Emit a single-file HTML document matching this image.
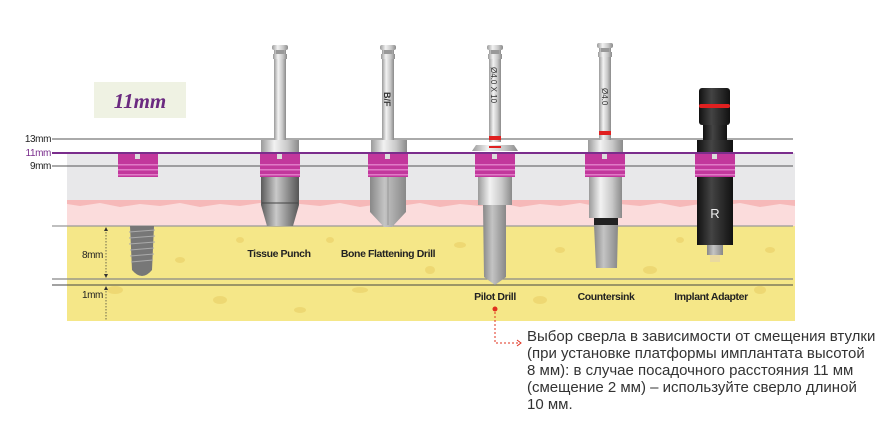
<!DOCTYPE html>
<html><head><meta charset="utf-8"><style>
html,body{margin:0;padding:0;background:#fff;width:890px;height:428px;overflow:hidden}
svg{display:block}
.t{font-family:"Liberation Sans",sans-serif}
.lbl{font-family:"Liberation Sans",sans-serif;font-size:10.5px;font-weight:bold;fill:#222;text-anchor:middle;letter-spacing:-0.4px}
.mm{font-family:"Liberation Sans",sans-serif;font-size:10px;fill:#222;text-anchor:end;letter-spacing:-0.4px}
</style></head><body>
<svg width="890" height="428" viewBox="0 0 890 428" xmlns="http://www.w3.org/2000/svg">
<defs>
<linearGradient id="met" x1="0" x2="1"><stop offset="0" stop-color="#9a9a9a"/><stop offset=".35" stop-color="#f2f2f2"/><stop offset=".7" stop-color="#c8c8c8"/><stop offset="1" stop-color="#8a8a8a"/></linearGradient>
<linearGradient id="dk" x1="0" x2="1"><stop offset="0" stop-color="#5a5a5a"/><stop offset=".4" stop-color="#c9c9c9"/><stop offset="1" stop-color="#555"/></linearGradient>
<linearGradient id="gr" x1="0" x2="1"><stop offset="0" stop-color="#888"/><stop offset=".4" stop-color="#c4c4c4"/><stop offset="1" stop-color="#888"/></linearGradient>
<linearGradient id="blk" x1="0" x2="1"><stop offset="0" stop-color="#111"/><stop offset=".4" stop-color="#444"/><stop offset="1" stop-color="#111"/></linearGradient>
<g id="sleeve"><rect x="-20" y="0" width="40" height="24" fill="#c2379c"/><rect x="-20" y="11" width="40" height="1.5" fill="#e07ac6"/><rect x="-20" y="16" width="40" height="1.5" fill="#e07ac6"/><rect x="-20" y="21" width="40" height="1.5" fill="#e07ac6"/><rect x="-3" y="1" width="5" height="5" fill="#ddd"/></g>
<g id="shaft"><rect x="-6" y="0" width="12" height="95" fill="url(#met)"/><rect x="-8" y="-2" width="16" height="5" rx="2" fill="url(#met)"/><rect x="-4" y="3" width="8" height="4" fill="#999"/><rect x="-7" y="7" width="14" height="5" fill="url(#met)"/></g>
</defs>
<rect x="94" y="82" width="92" height="36" fill="#eff2e3"/>
<text x="140" y="108" text-anchor="middle" font-family="Liberation Serif,serif" font-style="italic" font-weight="bold" font-size="21" fill="#6b2a80">11mm</text>
<rect x="67" y="153" width="728" height="47" fill="#e8e8ea"/>
<rect x="67" y="200" width="728" height="26" fill="#fbdcdc"/>
<path d="M67 200 L795 200 L795 206 L780 204 L760 207 L740 203 L720 206 L700 204 L680 207 L660 203 L640 206 L620 204 L600 207 L580 203 L560 206 L540 204 L520 207 L500 203 L480 206 L460 204 L440 207 L420 203 L400 206 L380 204 L360 207 L340 203 L320 206 L300 204 L280 207 L260 203 L240 206 L220 204 L200 207 L180 203 L160 206 L140 204 L120 207 L100 203 L80 206 L67 204Z" fill="#f6b9b9"/>
<rect x="67" y="226" width="728" height="95" fill="#f5e788"/>
<g fill="#ecd56e" opacity=".8">
<ellipse cx="115" cy="290" rx="8" ry="4"/><ellipse cx="180" cy="260" rx="5" ry="3"/><ellipse cx="220" cy="300" rx="7" ry="4"/><ellipse cx="330" cy="240" rx="4" ry="3"/><ellipse cx="360" cy="290" rx="8" ry="3"/><ellipse cx="430" cy="270" rx="5" ry="4"/><ellipse cx="460" cy="245" rx="6" ry="3"/><ellipse cx="540" cy="300" rx="7" ry="4"/><ellipse cx="560" cy="250" rx="5" ry="3"/><ellipse cx="650" cy="270" rx="7" ry="4"/><ellipse cx="680" cy="240" rx="4" ry="3"/><ellipse cx="760" cy="290" rx="6" ry="4"/><ellipse cx="770" cy="250" rx="5" ry="3"/><ellipse cx="300" cy="310" rx="6" ry="3"/><ellipse cx="240" cy="240" rx="4" ry="3"/>
</g>
<line x1="52" y1="139" x2="793" y2="139" stroke="#555" stroke-width="1"/>
<line x1="52" y1="166" x2="793" y2="166" stroke="#555" stroke-width="1"/>
<line x1="52" y1="226" x2="793" y2="226" stroke="#999" stroke-width="1.2"/>
<line x1="52" y1="279" x2="793" y2="279" stroke="#888" stroke-width="1.2"/>
<line x1="52" y1="285" x2="793" y2="285" stroke="#444" stroke-width="1"/>
<text class="mm" x="51" y="142">13mm</text>
<text class="mm" x="51" y="156" style="fill:#7a2d8c">11mm</text>
<text class="mm" x="51" y="169">9mm</text>
<line x1="106" y1="229" x2="106" y2="276" stroke="#333" stroke-width=".7" stroke-dasharray="1.5,1.5"/>
<path d="M104 231 L106 227 L108 231Z M104 274 L106 278 L108 274Z M104 290 L106 286 L108 290Z" fill="#333"/>
<line x1="106" y1="288" x2="106" y2="320" stroke="#333" stroke-width=".7" stroke-dasharray="1.5,1.5"/>
<text class="mm" x="103" y="258">8mm</text>
<text class="mm" x="103" y="298">1mm</text>
<path d="M130 226 L154 226 L152 270 Q142 282 132 270Z" fill="#777"/>
<g stroke="#aaa" stroke-width="1"><line x1="129" y1="232" x2="155" y2="230"/><line x1="129" y1="238" x2="155" y2="236"/><line x1="129" y1="244" x2="155" y2="242"/><line x1="130" y1="250" x2="154" y2="248"/><line x1="130" y1="256" x2="154" y2="254"/><line x1="131" y1="262" x2="153" y2="260"/></g>
<use href="#sleeve" x="138" y="153"/>
<use href="#shaft" x="280" y="47"/>
<rect x="261" y="140" width="38" height="13" fill="url(#met)"/>
<path d="M261 177 L299 177 L299 205 L293 226 L267 226 L261 205Z" fill="url(#dk)"/>
<line x1="262" y1="203" x2="298" y2="203" stroke="#444"/>
<use href="#sleeve" x="280" y="153"/>
<use href="#shaft" x="388" y="47"/>
<text x="0" y="0" transform="translate(384,92) rotate(90)" font-family="Liberation Sans,sans-serif" font-size="9" font-weight="bold" fill="#333">B/F</text>
<rect x="371" y="140" width="36" height="13" fill="url(#met)"/>
<path d="M370 177 L406 177 L406 212 L392 227 L384 227 L370 212Z" fill="url(#gr)"/>
<line x1="388" y1="177" x2="388" y2="225" stroke="#999"/>
<use href="#sleeve" x="388" y="153"/>
<use href="#shaft" x="495" y="47"/>
<text x="0" y="0" transform="translate(491,67) rotate(90)" font-family="Liberation Sans,sans-serif" font-size="8" fill="#333">Ø4.0 X 10</text>
<rect x="489" y="136" width="12" height="4" fill="#e02020"/>
<path d="M476 145 L514 145 L518 151 L472 151Z" fill="url(#met)"/>
<rect x="489" y="146" width="12" height="2" fill="#e02020"/>
<rect x="478" y="177" width="34" height="28" fill="url(#met)"/>
<path d="M483 205 L506 205 L506 277 L495 285 L484 277Z" fill="url(#gr)"/>
<use href="#sleeve" x="495" y="153"/>
<use href="#shaft" x="605" y="45"/>
<text x="0" y="0" transform="translate(602,88) rotate(90)" font-family="Liberation Sans,sans-serif" font-size="8" fill="#333">Ø4.0</text>
<rect x="599" y="131" width="12" height="4" fill="#e02020"/>
<rect x="588" y="140" width="35" height="13" fill="url(#met)"/>
<rect x="589" y="177" width="33" height="41" fill="url(#met)"/>
<rect x="594" y="218" width="24" height="7" fill="#222"/>
<path d="M594 225 L618 225 L617 268 L596 268Z" fill="url(#gr)"/>
<use href="#sleeve" x="605" y="153"/>
<rect x="699" y="88" width="31" height="37" rx="3" fill="url(#blk)"/>
<rect x="699" y="104" width="31" height="4" rx="2" fill="#e02020"/>
<rect x="703" y="125" width="24" height="15" fill="url(#blk)"/>
<rect x="697" y="140" width="36" height="105" fill="url(#blk)"/>
<text x="715" y="218" text-anchor="middle" font-family="Liberation Sans,sans-serif" font-size="13" fill="#eee">R</text>
<rect x="707" y="245" width="16" height="10" fill="url(#gr)"/>
<rect x="710" y="255" width="10" height="7" fill="#e9d9a0"/>
<use href="#sleeve" x="715" y="153"/>
<line x1="52" y1="153" x2="793" y2="153" stroke="#7a2d8c" stroke-width="2"/>
<text class="lbl" x="279" y="257">Tissue Punch</text>
<text class="lbl" x="388" y="257">Bone Flattening Drill</text>
<text class="lbl" x="495" y="300">Pilot Drill</text>
<text class="lbl" x="606" y="300">Countersink</text>
<text class="lbl" x="711" y="300">Implant Adapter</text>
<circle cx="495" cy="309" r="2.5" fill="#e0301e"/>
<path d="M495 312 L495 343 L518 343" fill="none" stroke="#e0301e" stroke-width="1" stroke-dasharray="2,2"/>
<path d="M517 340 L521 343 L517 346" fill="none" stroke="#e0301e" stroke-width="1"/>
<g class="t" font-size="15" fill="#333">
<text x="527" y="341">Выбор сверла в зависимости от смещения втулки</text>
<text x="527" y="358">(при установке платформы имплантата высотой</text>
<text x="527" y="375">8 мм): в случае посадочного расстояния 11 мм</text>
<text x="527" y="392">(смещение 2 мм) – используйте сверло длиной</text>
<text x="527" y="409">10 мм.</text>
</g>
</svg>
</body></html>
